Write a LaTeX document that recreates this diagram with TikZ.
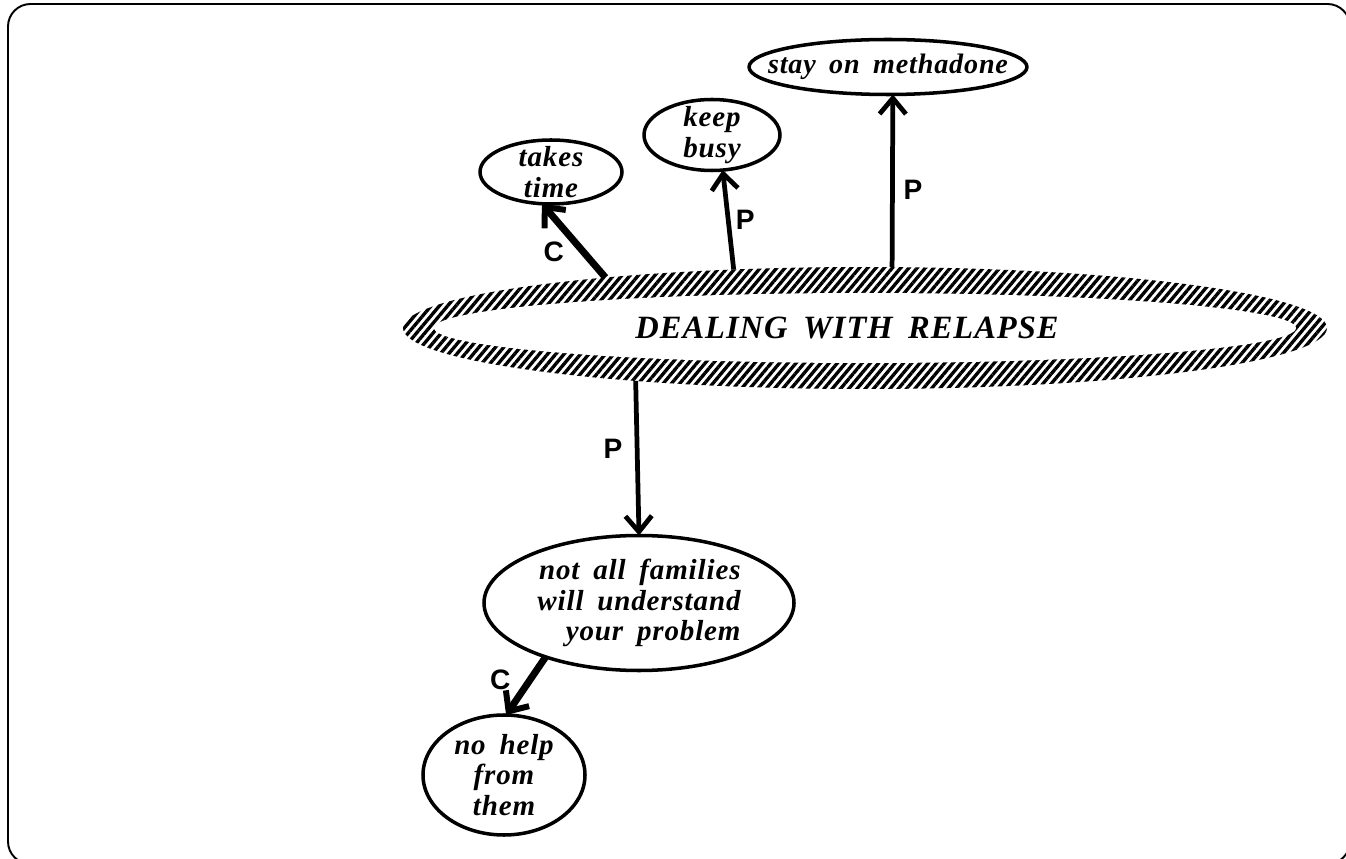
\documentclass[tikz,border=0pt]{standalone}
\usepackage{fontspec}
\setmainfont{Liberation Serif}
\setsansfont{Liberation Sans}
\newfontfamily\notefont[LetterSpace=3,WordSpace=1.7]{Liberation Serif}
\usetikzlibrary{shapes.geometric,arrows.meta,patterns.meta}

\begin{document}
\begin{tikzpicture}[line join=round,
  main/.style = {draw, ellipse, line width=2pt, inner xsep=-1cm, inner ysep=-0.3cm, outer sep=0pt, align=center, font=\notefont\bfseries\itshape\fontsize{16.5}{17.5}\selectfont},
  hub/.style = {ellipse, inner sep=0pt, outer sep=0pt, minimum width=18.48cm, minimum height=2.44cm, pattern={Lines[angle=50,distance=3.6pt,line width=1.9pt]}},
  hole/.style = {ellipse, fill=white, inner sep=0pt, outer sep=0pt, minimum width=17.24cm, minimum height=1.4cm},
  pro/.style = {line width=2.7pt, -{Straight Barb[length=9pt,width=15pt,line width=2.7pt]}},
  con/.style = {line width=4pt, -{Straight Barb[length=9pt,width=16pt,line width=3.4pt]}},
  lbl/.style = {font=\sffamily\bfseries\fontsize{16}{18}\selectfont, inner sep=0pt}]
\useasboundingbox (0,0) rectangle (26.92,-17.18);
\draw[line width=1.1pt, rounded corners=0.45cm] (0.16,-0.08) rectangle (27.0,-17.28);

% hatched hub
\node[hub] (relapse) at (17.3,-6.56) {};
\node[hole, label={[font=\notefont\bfseries\itshape\fontsize{18.5}{20}\selectfont, xshift=-0.36cm]center:DEALING WITH RELAPSE}] (core) at (relapse) {};

\node[main, minimum width=5.56cm, minimum height=1.1cm, font=\notefont\bfseries\itshape\fontsize{16}{17}\selectfont] (methadone) at (17.76,-1.34) {stay on methadone};
\node[main, minimum width=2.72cm, minimum height=1.42cm] (busy) at (14.24,-2.7) {keep\\busy};
\node[main, minimum width=2.84cm, minimum height=1.28cm] (time) at (11.02,-3.44) {takes\\time};
\node[main, minimum width=6.2cm, minimum height=2.7cm, align=right] (families) at (12.78,-12.06) {not all families\\will understand\\your problem};
\node[main, minimum width=3.24cm, minimum height=2.4cm] (nohelp) at (10.08,-15.5) {no help\\from\\them};

\draw[con] (relapse.169) -- (time.254) node[lbl, pos=0.35, left=9pt] {C};
\draw[pro] (relapse.156) -- (busy.287) node[lbl, pos=0.5, right=3pt] {P};
\draw[pro] (relapse.66) -- (methadone.280) node[lbl, pos=0.45, right=5pt] {P};
\draw[pro] (relapse.193) -- (families.north) node[lbl, pos=0.44, left=7pt] {P};
\draw[con] (families.210) -- (nohelp.88) node[lbl, pos=0.4, left=9pt] {C};
\end{tikzpicture}
\end{document}
